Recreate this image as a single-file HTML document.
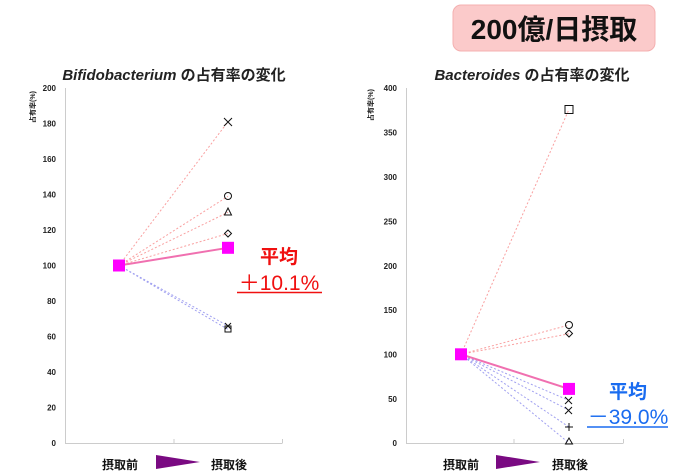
<!DOCTYPE html>
<html><head><meta charset="utf-8"><style>
html,body{margin:0;padding:0;background:#fff;width:680px;height:471px;overflow:hidden}
svg{display:block;font-family:"Liberation Sans","Noto Sans CJK JP",sans-serif}
</style></head><body>
<svg width="680" height="471" viewBox="0 0 680 471">
<!-- badge -->
<rect x="453" y="5" width="202" height="46" rx="8" fill="#fbcaca" stroke="#f4b0b0"/>
<text x="554" y="39" text-anchor="middle" font-size="28" font-weight="bold" fill="#111">200億/日摂取</text>

<!-- LEFT CHART -->
<text x="174" y="80" text-anchor="middle" font-size="15" font-weight="bold" fill="#222"><tspan font-style="italic">Bifidobacterium</tspan> の占有率の変化</text>
<text transform="translate(35,107) rotate(-90)" text-anchor="middle" font-size="7" font-weight="bold" fill="#222">占有率(%)</text>
<g stroke="#ccc" stroke-width="1" fill="none">
<path d="M65.5 88 V443.5 H282.5 M174 443 v-4 M282.5 443 v-4"/>
</g>
<g font-size="8" font-weight="bold" fill="#222" text-anchor="end">
<text x="56" y="446">0</text><text x="56" y="410.5">20</text><text x="56" y="375">40</text><text x="56" y="339.5">60</text><text x="56" y="304">80</text><text x="56" y="268.5">100</text><text x="56" y="233">120</text><text x="56" y="197.5">140</text><text x="56" y="162">160</text><text x="56" y="126.5">180</text><text x="56" y="91">200</text>
</g>
<g stroke-width="1" stroke-dasharray="2,2" fill="none">
<g stroke="#f9a0a0"><path d="M119 265.5 L228 121.7 M119 265.5 L228 196.3 M119 265.5 L228 212.3 M119 265.5 L228 233.5"/></g>
<g stroke="#a0a0f0"><path d="M119 265.5 L228 325.9 M119 265.5 L228 329.4"/></g>
</g>
<line x1="119" y1="265.5" x2="228" y2="247.8" stroke="#f070b0" stroke-width="2"/>
<g stroke="#111" stroke-width="1" fill="none">
<path d="M224 118 l8 8 M232 118 l-8 8"/>
<circle cx="228" cy="196" r="3.5"/>
<path d="M228 208 l3.5 7 h-7 z"/>
<path d="M228 230 l3.5 3.5 -3.5 3.5 -3.5 -3.5 z"/>
<path d="M225 323 l6 6 M231 323 l-6 6"/>
<rect x="225" y="326" width="6" height="6"/>
</g>
<rect x="113" y="259.5" width="12" height="12" fill="#ff00ff"/>
<rect x="222" y="241.8" width="12" height="12" fill="#ff00ff"/>
<text x="279" y="263" text-anchor="middle" font-size="19" font-weight="bold" fill="#f01010">平均</text>
<text x="279" y="290" text-anchor="middle" font-size="21" fill="#f01010">＋10.1%</text>
<line x1="237" y1="292.5" x2="322" y2="292.5" stroke="#f01010" stroke-width="1.5"/>
<text x="120" y="469" text-anchor="middle" font-size="12" font-weight="bold" fill="#111">摂取前</text>
<path d="M156 455 L200 462 L156 469 Z" fill="#7a0a82"/>
<text x="229" y="469" text-anchor="middle" font-size="12" font-weight="bold" fill="#111">摂取後</text>

<!-- RIGHT CHART -->
<text x="532" y="80" text-anchor="middle" font-size="15" font-weight="bold" fill="#222"><tspan font-style="italic">Bacteroides</tspan> の占有率の変化</text>
<text transform="translate(373,105) rotate(-90)" text-anchor="middle" font-size="7" font-weight="bold" fill="#222">占有率(%)</text>
<g stroke="#ccc" stroke-width="1" fill="none">
<path d="M406.5 88 V443.5 H623.5 M514 443 v-4 M623.5 443 v-4"/>
</g>
<g font-size="8" font-weight="bold" fill="#222" text-anchor="end">
<text x="397" y="446">0</text><text x="397" y="402">50</text><text x="397" y="357.5">100</text><text x="397" y="313">150</text><text x="397" y="269">200</text><text x="397" y="224.5">250</text><text x="397" y="180">300</text><text x="397" y="135.5">350</text><text x="397" y="91">400</text>
</g>
<g stroke-width="1" stroke-dasharray="2,2" fill="none">
<g stroke="#f9a0a0"><path d="M461 354.3 L569 109.3 M461 354.3 L569 325 M461 354.3 L569 333.8"/></g>
<g stroke="#a0a0f0"><path d="M461 354.3 L569 400.4 M461 354.3 L569 410.2 M461 354.3 L569 427 M461 354.3 L569 443"/></g>
</g>
<line x1="461" y1="354.3" x2="569" y2="388.9" stroke="#f070b0" stroke-width="2"/>
<g stroke="#111" stroke-width="1" fill="none">
<rect x="565" y="105.5" width="8" height="8"/>
<circle cx="569" cy="325" r="3.5"/>
<path d="M569 330 l3.5 3.5 -3.5 3.5 -3.5 -3.5 z"/>
<path d="M565 397 l7 7 M572 397 l-7 7"/>
<path d="M565 407 l7 7 M572 407 l-7 7"/>
<path d="M569 423 v8 M565 427 h8"/>
<path d="M569 438 l3.5 6 h-7 z"/>
</g>
<rect x="455" y="348.3" width="12" height="12" fill="#ff00ff"/>
<rect x="563" y="382.9" width="12" height="12" fill="#ff00ff"/>
<text x="628" y="398" text-anchor="middle" font-size="19" font-weight="bold" fill="#1a6cf0">平均</text>
<text x="628" y="424" text-anchor="middle" font-size="21" fill="#1a6cf0">－39.0%</text>
<line x1="587" y1="427" x2="668" y2="427" stroke="#1a6cf0" stroke-width="1.5"/>
<text x="461" y="469" text-anchor="middle" font-size="12" font-weight="bold" fill="#111">摂取前</text>
<path d="M496 455 L540 462 L496 469 Z" fill="#7a0a82"/>
<text x="570" y="469" text-anchor="middle" font-size="12" font-weight="bold" fill="#111">摂取後</text>
</svg>
</body></html>
